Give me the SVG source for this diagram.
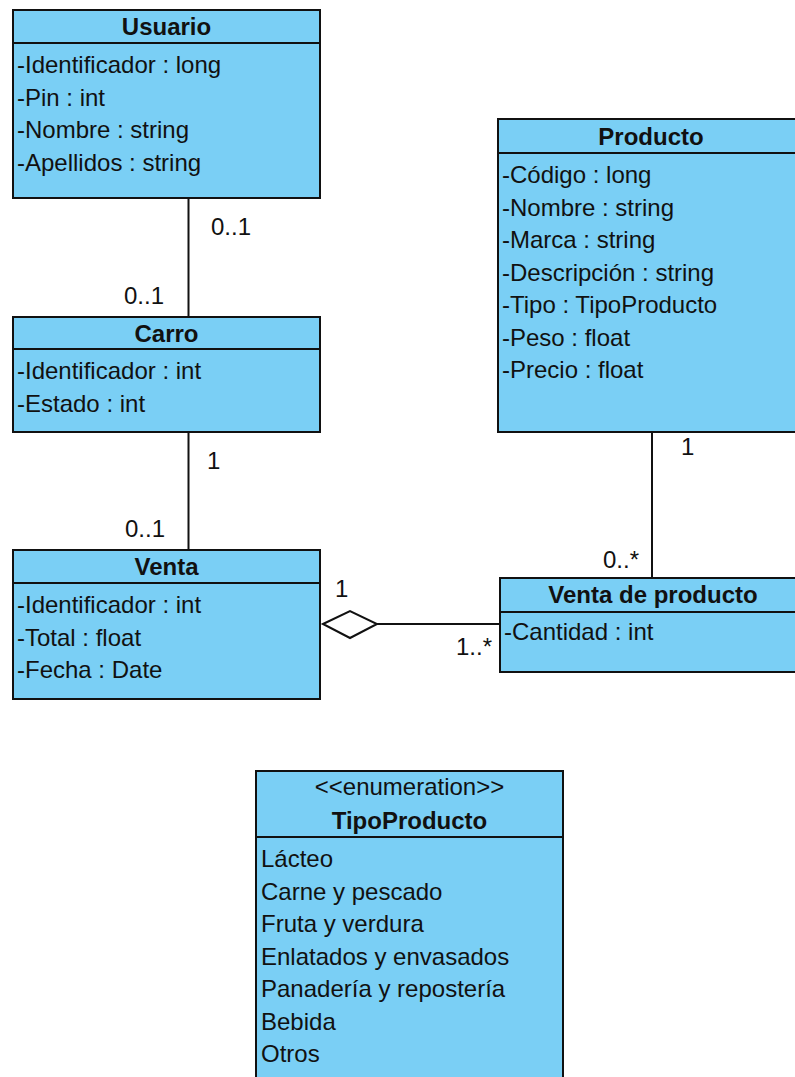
<svg xmlns="http://www.w3.org/2000/svg" width="795" height="1077" viewBox="0 0 795 1077">
  <style>
    .box { fill: #7acff5; stroke: #111; stroke-width: 2; }
    .sep { stroke: #111; stroke-width: 2; }
    .edge { stroke: #111; stroke-width: 2; fill: none; }
    text { font-family: "Liberation Sans", Arial, sans-serif; font-size: 24px; fill: #111; }
    .title { font-weight: bold; text-anchor: middle; }
    .stereo { text-anchor: middle; }
  </style>

  <rect width="795" height="1077" fill="#ffffff"/>

  <!-- Usuario -->
  <g id="usuario">
    <rect class="box" x="13" y="10" width="307" height="188"/>
    <line class="sep" x1="13" y1="43" x2="320" y2="43"/>
    <text class="title" x="166.5" y="35">Usuario</text>
    <text x="17" y="73">-Identificador : long</text>
    <text x="17" y="105.5">-Pin : int</text>
    <text x="17" y="138">-Nombre : string</text>
    <text x="17" y="170.5">-Apellidos : string</text>
  </g>

  <!-- Carro -->
  <g id="carro">
    <rect class="box" x="13" y="317" width="307" height="115"/>
    <line class="sep" x1="13" y1="349" x2="320" y2="349"/>
    <text class="title" x="166.5" y="342">Carro</text>
    <text x="17" y="379">-Identificador : int</text>
    <text x="17" y="412">-Estado : int</text>
  </g>

  <!-- Venta -->
  <g id="venta">
    <rect class="box" x="13" y="550" width="307" height="149"/>
    <line class="sep" x1="13" y1="583" x2="320" y2="583"/>
    <text class="title" x="166.5" y="575">Venta</text>
    <text x="17" y="613">-Identificador : int</text>
    <text x="17" y="645.5">-Total : float</text>
    <text x="17" y="678">-Fecha : Date</text>
  </g>

  <!-- Producto -->
  <g id="producto">
    <rect class="box" x="498" y="119" width="309" height="313"/>
    <line class="sep" x1="498" y1="153" x2="807" y2="153"/>
    <text class="title" x="651" y="145">Producto</text>
    <text x="502" y="183">-Código : long</text>
    <text x="502" y="215.5">-Nombre : string</text>
    <text x="502" y="248">-Marca : string</text>
    <text x="502" y="280.5">-Descripción : string</text>
    <text x="502" y="313">-Tipo : TipoProducto</text>
    <text x="502" y="345.5">-Peso : float</text>
    <text x="502" y="378">-Precio : float</text>
  </g>

  <!-- Venta de producto -->
  <g id="venta-de-producto">
    <rect class="box" x="500" y="578" width="307" height="94"/>
    <line class="sep" x1="500" y1="612" x2="807" y2="612"/>
    <text class="title" x="653" y="603">Venta de producto</text>
    <text x="504" y="640">-Cantidad : int</text>
  </g>

  <!-- TipoProducto enumeration -->
  <g id="tipo-producto">
    <rect class="box" x="256" y="771" width="307" height="320"/>
    <line class="sep" x1="256" y1="837" x2="563" y2="837"/>
    <text class="stereo" x="409.5" y="795">&lt;&lt;enumeration&gt;&gt;</text>
    <text class="title" x="409.5" y="829">TipoProducto</text>
    <text x="261" y="867">Lácteo</text>
    <text x="261" y="899.5">Carne y pescado</text>
    <text x="261" y="932">Fruta y verdura</text>
    <text x="261" y="964.5">Enlatados y envasados</text>
    <text x="261" y="997">Panadería y repostería</text>
    <text x="261" y="1029.5">Bebida</text>
    <text x="261" y="1062">Otros</text>
  </g>

  <!-- Associations -->
  <g id="connectors">
    <line class="edge" x1="188.5" y1="198" x2="188.5" y2="317"/>
    <text x="211" y="235">0..1</text>
    <text x="124" y="304">0..1</text>

    <line class="edge" x1="188.5" y1="432" x2="188.5" y2="550"/>
    <text x="207" y="469">1</text>
    <text x="125" y="537">0..1</text>

    <line class="edge" x1="652" y1="432" x2="652" y2="578"/>
    <text x="681" y="455">1</text>
    <text x="603" y="568">0..*</text>

    <!-- aggregation: Venta (whole) to Venta de producto -->
    <line class="edge" x1="377" y1="624" x2="500" y2="624"/>
    <polygon class="edge" fill="#ffffff" points="323,624 350,611 377,624 350,638"/>
    <text x="335" y="597">1</text>
    <text x="456" y="655">1..*</text>
  </g>
</svg>
